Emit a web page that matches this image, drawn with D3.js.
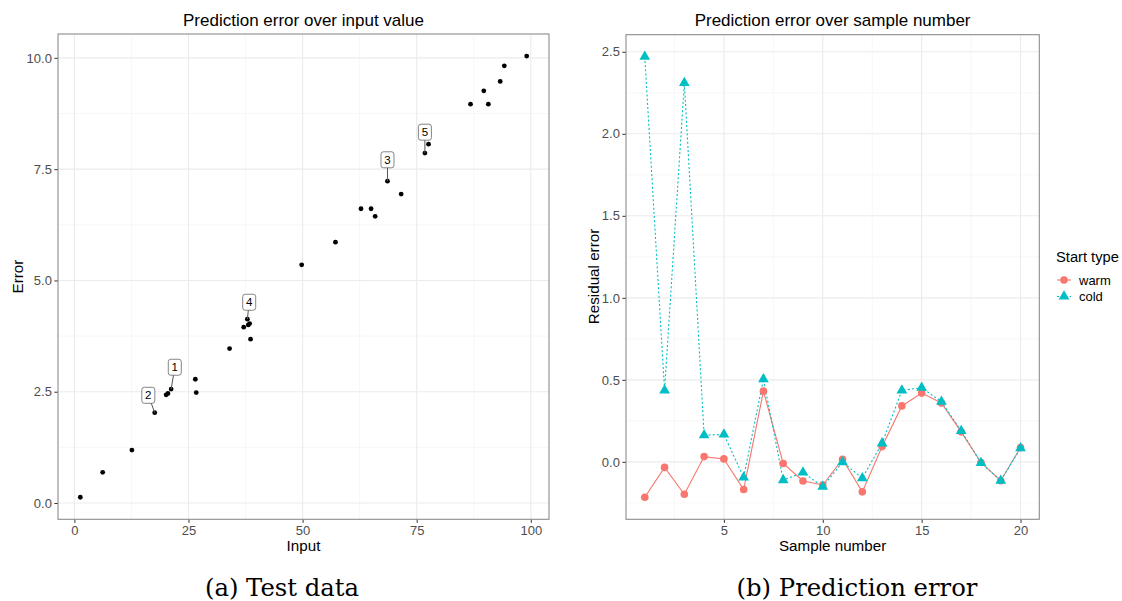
<!DOCTYPE html>
<html>
<head>
<meta charset="utf-8">
<script src="https://cdn.jsdelivr.net/npm/d3@7"></script>
<style>
    body { margin: 0; background: #fff; }
    text { font-family: "Liberation Sans", Arial, sans-serif; }
    .tick-label { font-size: 13px; fill: #4d4d4d; }
    .axis-title { font-size: 15.2px; fill: #000; }
    .plot-title { font-size: 17px; fill: #000; }
    .legend-title { font-size: 14.7px; fill: #000; }
    .legend-label { font-size: 13px; fill: #000; }
    .caption { font-family: "DejaVu Serif", serif; font-size: 24.3px; fill: #000; }
</style>
</head>
<body>
<svg id="chart" width="1122" height="601"></svg>
<script>
// ---- left panel: input vs error ----
const inputX = [1.3, 6.2, 12.6, 17.6, 20.1, 20.5, 21.2, 26.5, 26.7, 34.0,
    37.1, 37.9, 38.1, 38.4, 38.6, 49.8, 57.2, 62.8, 65.0, 65.9,
    68.6, 71.6, 76.8, 77.6, 86.8, 89.7, 90.7, 93.3, 94.2, 99.1];
const inputErr = [0.13, 0.69, 1.19, 2.03, 2.43, 2.46, 2.56, 2.78, 2.48, 3.47,
    3.95, 4.13, 4.00, 4.03, 3.68, 5.35, 5.86, 6.61, 6.61, 6.44,
    7.23, 6.94, 7.86, 8.06, 8.96, 9.26, 8.96, 9.47, 9.82, 10.04];
const xTicksLeft = [0, 25, 50, 75, 100];
const yTicksLeft = [0, 2.5, 5, 7.5, 10];

// repel labels: id, index of the point it marks, label position
const labelIds = ["1", "2", "3", "4", "5"];
const labelPoint = [6, 3, 20, 11, 22];
const labelX = [22.0, 16.2, 68.6, 38.3, 76.8];
const labelY = [3.05, 2.42, 7.71, 4.51, 8.33];

// ---- right panel: residual error per sample ----
const sampleNo = [1, 2, 3, 4, 5, 6, 7, 8, 9, 10, 11, 12, 13, 14, 15, 16, 17, 18, 19, 20];
const warmErr = [-0.216, -0.034, -0.198, 0.032, 0.018, -0.169, 0.431, -0.010, -0.117, -0.141,
    0.016, -0.183, 0.093, 0.341, 0.419, 0.359, 0.183, -0.004, -0.115, 0.087];
const coldErr = [2.47, 0.435, 2.31, 0.163, 0.167, -0.095, 0.504, -0.111, -0.065, -0.151,
    -0.002, -0.099, 0.113, 0.435, 0.452, 0.367, 0.188, -0.006, -0.115, 0.083];
const xTicksRight = [5, 10, 15, 20];
const yTicksRight = [0, 0.5, 1.0, 1.5, 2.0, 2.5];
const startTypes = ["warm", "cold"];
const typeColors = ["#F8766D", "#00BFC4"];

const svg = d3.select("#chart");

// ggplot style 5% expansion
function expand(ext) {
    let pad = (ext[1] - ext[0]) * 0.05;
    return [ext[0] - pad, ext[1] + pad];
}

function minorOf(ticks) {
    let step = ticks[1] - ticks[0];
    let out = [];
    ticks.forEach(function (t) { out.push(t - step / 2); });
    out.push(ticks[ticks.length - 1] + step / 2);
    return out;
}

// draws grid and ticks of a panel
function drawFrame(g, x, y, xt, yt, fmtY) {
    let [x0, x1] = x.range();
    let [y1, y0] = y.range();
    let inX = v => v >= x.domain()[0] && v <= x.domain()[1];
    let inY = v => v >= y.domain()[0] && v <= y.domain()[1];

    g.selectAll(".minor-x").data(minorOf(xt).filter(inX)).enter().append("line")
        .attr("x1", d => x(d)).attr("x2", d => x(d)).attr("y1", y0).attr("y2", y1)
        .attr("stroke", "#f2f2f2").attr("stroke-width", 0.6);
    g.selectAll(".minor-y").data(minorOf(yt).filter(inY)).enter().append("line")
        .attr("y1", d => y(d)).attr("y2", d => y(d)).attr("x1", x0).attr("x2", x1)
        .attr("stroke", "#f2f2f2").attr("stroke-width", 0.6);
    g.selectAll(".major-x").data(xt).enter().append("line")
        .attr("x1", d => x(d)).attr("x2", d => x(d)).attr("y1", y0).attr("y2", y1)
        .attr("stroke", "#ebebeb").attr("stroke-width", 1.1);
    g.selectAll(".major-y").data(yt).enter().append("line")
        .attr("y1", d => y(d)).attr("y2", d => y(d)).attr("x1", x0).attr("x2", x1)
        .attr("stroke", "#ebebeb").attr("stroke-width", 1.1);

    // axes
    let ax = g.append("g").attr("transform", "translate(0," + y1 + ")")
        .call(d3.axisBottom(x).tickValues(xt).tickSize(3.6).tickPadding(2.5));
    let ay = g.append("g").attr("transform", "translate(" + x0 + ",0)")
        .call(d3.axisLeft(y).tickValues(yt).tickFormat(fmtY).tickSize(3.6).tickPadding(2.5));
    [ax, ay].forEach(function (a) {
        a.attr("font-family", null).attr("font-size", null);
        a.select(".domain").remove();
        a.selectAll(".tick line").attr("stroke", "#333").attr("stroke-width", 1);
        a.selectAll(".tick text").attr("class", "tick-label");
    });
}

function drawBorder(g, x, y) {
    let [x0, x1] = x.range();
    let [y1, y0] = y.range();
    g.append("rect").attr("x", x0).attr("y", y0).attr("width", x1 - x0).attr("height", y1 - y0)
        .attr("fill", "none").attr("stroke", "#8c8c8c").attr("stroke-width", 1.1);
}

// ---------- left panel ----------
const xL = d3.scaleLinear().domain(expand(d3.extent(inputX))).range([58, 549]);
const yL = d3.scaleLinear().domain(expand(d3.extent(inputErr))).range([519.3, 34]);
const gL = svg.append("g");
drawFrame(gL, xL, yL, xTicksLeft, yTicksLeft, d3.format(".1f"));

gL.selectAll(".pt").data(inputX).enter().append("circle")
    .attr("cx", (d, i) => xL(d))
    .attr("cy", (d, i) => yL(inputErr[i]))
    .attr("r", 2.4)
    .attr("fill", "#000");

// label segments then boxes
labelIds.forEach(function (id, i) {
    let p = labelPoint[i];
    let lx = xL(labelX[i]), ly = yL(labelY[i]);
    let px = xL(inputX[p]), py = yL(inputErr[p]);
    gL.append("line")
        .attr("x1", lx).attr("y1", ly).attr("x2", px).attr("y2", py)
        .attr("stroke", "#555").attr("stroke-width", 1);
    gL.append("rect")
        .attr("x", lx - 6.5).attr("y", ly - 8).attr("width", 13).attr("height", 16)
        .attr("rx", 2.5).attr("fill", "#fff").attr("stroke", "#666").attr("stroke-width", 0.8);
    gL.append("text")
        .attr("x", lx).attr("y", ly + 4)
        .attr("text-anchor", "middle")
        .style("font-size", "11.5px")
        .text(id);
});
drawBorder(gL, xL, yL);

gL.append("text").attr("class", "plot-title").attr("x", 303.5).attr("y", 26)
    .attr("text-anchor", "middle").text("Prediction error over input value");
gL.append("text").attr("class", "axis-title").attr("x", 303.5).attr("y", 551)
    .attr("text-anchor", "middle").text("Input");
gL.append("text").attr("class", "axis-title")
    .attr("transform", "translate(22.5," + 276.5 + ") rotate(-90)")
    .attr("text-anchor", "middle").text("Error");
svg.append("text").attr("class", "caption").attr("x", 282).attr("y", 596)
    .attr("text-anchor", "middle").text("(a) Test data");

// ---------- right panel ----------
const xR = d3.scaleLinear().domain(expand(d3.extent(sampleNo))).range([626, 1039.3]);
const yR = d3.scaleLinear().domain(expand(d3.extent(warmErr.concat(coldErr)))).range([519.3, 34.7]);
const gR = svg.append("g");
drawFrame(gR, xR, yR, xTicksRight, yTicksRight, d3.format(".1f"));

const seriesVals = [warmErr, coldErr];
const dashes = [null, "2,2.2"];
const lineGen = d3.line().x((d, i) => xR(sampleNo[i])).y(d => yR(d));

seriesVals.forEach(function (vals, s) {
    gR.append("path")
        .datum(vals)
        .attr("d", lineGen)
        .attr("fill", "none")
        .attr("stroke", typeColors[s])
        .attr("stroke-width", 1.1)
        .attr("stroke-dasharray", dashes[s]);
});

const triangle = d3.symbol().type(d3.symbolTriangle).size(50);
gR.selectAll(".warm").data(warmErr).enter().append("circle")
    .attr("cx", (d, i) => xR(sampleNo[i]))
    .attr("cy", d => yR(d))
    .attr("r", 3.8)
    .attr("fill", typeColors[0]);
gR.selectAll(".cold").data(coldErr).enter().append("path")
    .attr("d", triangle)
    .attr("transform", (d, i) => "translate(" + xR(sampleNo[i]) + "," + yR(d) + ")")
    .attr("fill", typeColors[1]);
drawBorder(gR, xR, yR);

gR.append("text").attr("class", "plot-title").attr("x", 832.6).attr("y", 26)
    .attr("text-anchor", "middle").text("Prediction error over sample number");
gR.append("text").attr("class", "axis-title").attr("x", 832.6).attr("y", 551)
    .attr("text-anchor", "middle").text("Sample number");
gR.append("text").attr("class", "axis-title")
    .attr("transform", "translate(598.5," + 276.5 + ") rotate(-90)")
    .attr("text-anchor", "middle").text("Residual error");
svg.append("text").attr("class", "caption").attr("x", 857).attr("y", 596)
    .attr("text-anchor", "middle").text("(b) Prediction error");

// legend
const leg = svg.append("g").attr("transform", "translate(1056,0)");
leg.append("text").attr("class", "legend-title").attr("x", 0).attr("y", 262).text("Start type");
startTypes.forEach(function (t, i) {
    let ky = 280 + i * 16.5;
    leg.append("line").attr("x1", 1).attr("x2", 15).attr("y1", ky).attr("y2", ky)
        .attr("stroke", typeColors[i]).attr("stroke-width", 1.1)
        .attr("stroke-dasharray", dashes[i]);
    if (i === 0) {
        leg.append("circle").attr("cx", 8).attr("cy", ky).attr("r", 3.8).attr("fill", typeColors[i]);
    } else {
        leg.append("path").attr("d", triangle).attr("transform", "translate(8," + ky + ")")
            .attr("fill", typeColors[i]);
    }
    leg.append("text").attr("class", "legend-label").attr("x", 23).attr("y", ky + 4.5).text(t);
});
</script>
</body>
</html>
